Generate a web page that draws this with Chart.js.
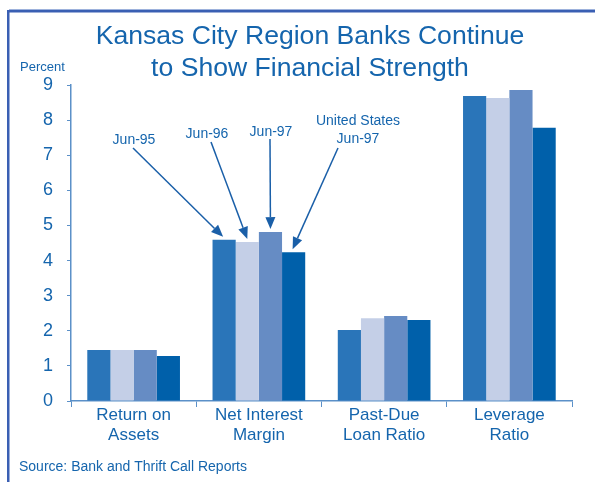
<!DOCTYPE html>
<html>
<head>
<meta charset="utf-8">
<script src="https://cdn.jsdelivr.net/npm/chart.js@4.4.1/dist/chart.umd.min.js"></script>
<style>
  html, body { margin: 0; padding: 0; background: #fff; }
  #wrap { width: 595px; height: 482px; position: relative; }
</style>
</head>
<body>
<div id="wrap"><canvas id="chartBanks" width="595" height="482"></canvas></div>
<script>
var categories = [["Return on", "Assets"], ["Net Interest", "Margin"], ["Past-Due", "Loan Ratio"], ["Leverage", "Ratio"]];
var seriesNames = ["Jun-95", "Jun-96", "Jun-97", "United States Jun-97"];
var jun95 = [1.45, 4.59, 2.02, 8.69];
var jun96 = [1.45, 4.53, 2.36, 8.63];
var jun97 = [1.45, 4.81, 2.42, 8.86];
var usJun97 = [1.28, 4.24, 2.31, 7.78];
var yTicks = [0, 1, 2, 3, 4, 5, 6, 7, 8, 9];

var fontFamily = '"Liberation Sans", Arial, Helvetica, sans-serif';
var textColor = '#1565ad';
var axisColor = '#5b90c8';
var barColors = ['#2a75b9', '#c4cfe7', '#668cc4', '#0060aa'];

// arrow callouts: label lines, label position, arrow start, which bar it points to
var callouts = [
    { lines: ["Jun-95"], x: 134, y: [144], from: [133, 148], ds: 0, dx: -1 },
    { lines: ["Jun-96"], x: 207, y: [138], from: [211, 142], ds: 1, dx: 0 },
    { lines: ["Jun-97"], x: 271, y: [136], from: [270, 139], ds: 2, dx: 0 },
    { lines: ["United States", "Jun-97"], x: 358, y: [125, 143], from: [338, 148], ds: 3, dx: -1 }
];

var decorPlugin = {
    id: 'decor',
    beforeDraw: function (chart) {
        var ctx = chart.ctx;
        ctx.save();
        // frame
        ctx.fillStyle = '#3a5fb3';
        ctx.fillRect(7, 10, 588, 2.5);
        ctx.fillRect(7, 10, 2.5, 472);
        ctx.fillStyle = '#9db2dc';
        ctx.fillRect(9, 9, 586, 1);
        ctx.restore();
    },
    afterDraw: function (chart) {
        var ctx = chart.ctx;
        ctx.save();
        ctx.fillStyle = textColor;
        ctx.textBaseline = 'alphabetic';
        ctx.textAlign = 'center';
        ctx.font = '26.6px ' + fontFamily;
        ctx.fillText("Kansas City Region Banks Continue", 310, 44);
        ctx.fillText("to Show Financial Strength", 310, 76);
        ctx.textAlign = 'left';
        ctx.font = '13px ' + fontFamily;
        ctx.fillText("Percent", 20, 71);
        ctx.font = '14px ' + fontFamily;
        ctx.fillText("Source: Bank and Thrift Call Reports", 19, 471);

        // callouts
        ctx.textAlign = 'center';
        ctx.font = '14px ' + fontFamily;
        ctx.strokeStyle = '#1a5fa8';
        ctx.fillStyle = textColor;
        ctx.lineWidth = 1.5;
        callouts.forEach(function (c) {
            c.lines.forEach(function (t, k) { ctx.fillText(t, c.x, c.y[k]); });
            var bar = chart.getDatasetMeta(c.ds).data[1];
            var tx = bar.x + c.dx, ty = bar.y - 3;
            var fx = c.from[0], fy = c.from[1];
            var ang = Math.atan2(ty - fy, tx - fx);
            var headLen = 12, headW = 5;
            var bx = tx - headLen * Math.cos(ang), by = ty - headLen * Math.sin(ang);
            ctx.beginPath();
            ctx.moveTo(fx, fy);
            ctx.lineTo(bx, by);
            ctx.stroke();
            ctx.fillStyle = '#1a5fa8';
            ctx.beginPath();
            ctx.moveTo(tx, ty);
            ctx.lineTo(bx + headW * Math.sin(ang), by - headW * Math.cos(ang));
            ctx.lineTo(bx - headW * Math.sin(ang), by + headW * Math.cos(ang));
            ctx.closePath();
            ctx.fill();
            ctx.fillStyle = textColor;
        });
        ctx.restore();
    }
};

function makeDataset(i, values) {
    return {
        label: seriesNames[i],
        data: values,
        backgroundColor: barColors[i],
        borderWidth: 0,
        categoryPercentage: 0.74,
        barPercentage: 1.0
    };
}

new Chart("chartBanks", {
    type: "bar",
    data: {
        labels: categories,
        datasets: [
            makeDataset(0, jun95),
            makeDataset(1, jun96),
            makeDataset(2, jun97),
            makeDataset(3, usJun97)
        ]
    },
    options: {
        responsive: false,
        animation: false,
        events: [],
        layout: { padding: { left: 31, top: 85, right: 23, bottom: 1 } },
        plugins: {
            legend: { display: false },
            title: { display: false },
            tooltip: { enabled: false }
        },
        scales: {
            x: {
                offset: true,
                grid: {
                    offset: true,
                    drawOnChartArea: false,
                    color: axisColor,
                    tickLength: 6,
                    tickColor: axisColor
                },
                border: { color: axisColor, width: 1.5 },
                ticks: {
                    color: textColor,
                    padding: -2,
                    maxRotation: 0,
                    font: { family: fontFamily, size: 17, lineHeight: 1.2 }
                },
                afterFit: function (s) { s.height = 80; }
            },
            y: {
                min: 0,
                max: 9,
                afterBuildTicks: function (s) {
                    s.ticks = yTicks.map(function (v) { return { value: v }; });
                },
                grid: {
                    drawOnChartArea: false,
                    color: axisColor,
                    tickLength: 4,
                    tickColor: axisColor
                },
                border: { color: axisColor, width: 1.5 },
                ticks: {
                    color: textColor,
                    padding: 14,
                    font: { family: fontFamily, size: 18 }
                },
                afterFit: function (s) { s.width = 40; }
            }
        }
    },
    plugins: [decorPlugin]
});
</script>
</body>
</html>
